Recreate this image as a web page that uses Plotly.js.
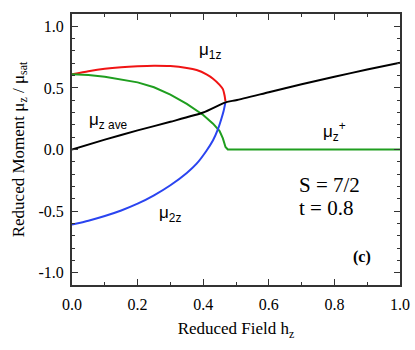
<!DOCTYPE html>
<html>
<head>
<meta charset="utf-8">
<script src="https://cdn.plot.ly/plotly-3.0.1.min.js"></script>
<style>
  html, body { margin: 0; padding: 0; background: #fff; }
  #chart { width: 415px; height: 350px; }
</style>
</head>
<body>
<div id="chart"></div>
<script>
// values (reduced field h_z vs reduced moment)
const hRed = [0, 0.05, 0.1, 0.15, 0.2, 0.25, 0.3, 0.35, 0.38, 0.41, 0.43, 0.45, 0.46, 0.465, 0.468];
const mu1z = [0.61, 0.635, 0.655, 0.668, 0.676, 0.68, 0.677, 0.662, 0.645, 0.61, 0.575, 0.525, 0.49, 0.44, 0.39];

const hGreen = [0, 0.05, 0.1, 0.15, 0.2, 0.25, 0.3, 0.35, 0.4, 0.43, 0.45, 0.46, 0.468, 0.475, 1.0];
const muPlus = [0.61, 0.605, 0.59, 0.57, 0.545, 0.505, 0.445, 0.37, 0.28, 0.21, 0.15, 0.09, 0.02, 0.0, 0.0];

const hBlue = [0, 0.05, 0.1, 0.15, 0.2, 0.25, 0.3, 0.35, 0.38, 0.41, 0.43, 0.445, 0.455, 0.462, 0.468];
const mu2z = [-0.61, -0.578, -0.54, -0.495, -0.44, -0.372, -0.29, -0.19, -0.115, -0.01, 0.075, 0.165, 0.245, 0.31, 0.385];

const hBlack = [0, 0.1, 0.2, 0.3, 0.4, 0.47, 0.5, 0.6, 0.7, 0.8, 0.9, 1.0];
const muAve = [0, 0.08, 0.155, 0.225, 0.3, 0.385, 0.4, 0.465, 0.53, 0.59, 0.65, 0.705];

const xTicks = [0, 0.2, 0.4, 0.6, 0.8, 1.0];
const xTickText = ['0.0', '0.2', '0.4', '0.6', '0.8', '1.0'];
const yTicks = [-1, -0.5, 0, 0.5, 1];
const yTickText = ['-1.0', '-0.5', '0.0', '0.5', '1.0'];

const SERIF = 'Liberation Serif';
const SANS = 'Liberation Sans';

function line(x, y, color, smooth) {
    return {
        x: x, y: y, type: 'scatter', mode: 'lines',
        line: smooth ? { color: color, width: 2, shape: 'spline', smoothing: 0.6 } : { color: color, width: 2 },
        hoverinfo: 'skip'
    };
}

const traces = [
    line(hRed, mu1z, '#f01414', true),
    line(hGreen, muPlus, '#1f9e1f', false),
    line(hBlue, mu2z, '#2a44f0', true),
    line(hBlack, muAve, '#000000', true)
];

function note(x, y, text, family, size, extra) {
    return Object.assign({
        xref: 'x', yref: 'y', x: x, y: y, text: text, showarrow: false,
        font: { family: family, size: size, color: '#000' }
    }, extra || {});
}

const annotations = [
    note(0.42, 0.8, 'μ<sub>1z</sub>', SANS, 17),
    note(0.11, 0.23, 'μ<sub>z ave</sub>', SANS, 17),
    note(0.30, -0.52, 'μ<sub>2z</sub>', SANS, 17),
    note(0.80, 0.15, 'μ<sub>z</sub><sup>+</sup>', SANS, 17),
    note(0.685, -0.29, 'S = 7/2', SERIF, 21, { xanchor: 'left' }),
    note(0.685, -0.477, 't = 0.8', SERIF, 21, { xanchor: 'left' }),
    note(0.885, -0.87, '<b>(c)</b>', SERIF, 16)
];

function axis(extra) {
    return Object.assign({
        showline: true, linecolor: '#333', linewidth: 2, mirror: 'allticks',
        ticks: 'inside', ticklen: 6, tickwidth: 1, tickcolor: '#333',
        showgrid: false, zeroline: false,
        tickfont: { family: SERIF, size: 16, color: '#000' },
        minor: { dtick: 0.1, ticks: 'inside', ticklen: 3, tickcolor: '#333' }
    }, extra);
}

const layout = {
    width: 415, height: 350,
    margin: { l: 72, r: 15, t: 14, b: 65 },
    paper_bgcolor: '#fff', plot_bgcolor: '#fff',
    showlegend: false,
    font: { family: SERIF, size: 16, color: '#000' },
    xaxis: axis({
        range: [0, 1], tickvals: xTicks, ticktext: xTickText, ticklabelstandoff: 4,
        title: { text: 'Reduced Field h<sub>z</sub>', font: { family: SERIF, size: 17, color: '#000' }, standoff: 10 }
    }),
    yaxis: axis({
        range: [-1.1, 1.1], tickvals: yTicks, ticktext: yTickText, ticklabelstandoff: 3,
        title: { text: 'Reduced Moment μ<sub>z</sub> / μ<sub>sat</sub>', font: { family: SERIF, size: 17, color: '#000' }, standoff: 10 }
    }),
    annotations: annotations
};

Plotly.newPlot('chart', traces, layout, { displayModeBar: false, staticPlot: true });
</script>
</body>
</html>
